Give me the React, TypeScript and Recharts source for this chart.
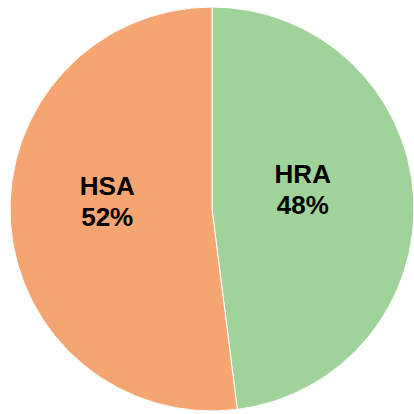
import React from 'react';
import { PieChart, Pie, Cell } from 'recharts';

const categories = ['HRA', 'HSA'];
const shares = [48, 52];
const colors = ['#A0D399', '#F4A572'];

const data = categories.map((name, i) => ({ name, value: shares[i] }));

const RADIAN = Math.PI / 180;

const renderLabel = (props: any) => {
  const { cx, cy, midAngle, outerRadius, name, value } = props;
  const r = outerRadius * 0.485;
  const x = cx + r * Math.cos(-midAngle * RADIAN) - 7;
  const y = cy + r * Math.sin(-midAngle * RADIAN) - 20;
  return (
    <text
      x={x}
      y={y}
      textAnchor="middle"
      fill="#000000"
      fontFamily='"Liberation Sans", Arial, sans-serif'
      fontSize={26}
      fontWeight="bold"
    >
      <tspan x={x}>{name}</tspan>
      <tspan x={x} dy={31}>{`${value}%`}</tspan>
    </text>
  );
};

const App: React.FC = () => {
  return (
    <div style={{ position: 'absolute', left: 0, top: 0, width: 414, height: 414, background: '#ffffff' }}>
      <PieChart width={414} height={414} margin={{ top: 0, right: 0, bottom: 0, left: 0 }}>
        <Pie
          data={data}
          dataKey="value"
          nameKey="name"
          cx={212}
          cy={209}
          outerRadius={202}
          startAngle={90}
          endAngle={-270}
          stroke="#ffffff"
          strokeWidth={1}
          label={renderLabel}
          labelLine={false}
          isAnimationActive={false}
        >
          {data.map((d, i) => (
            <Cell key={d.name} fill={colors[i]} />
          ))}
        </Pie>
      </PieChart>
    </div>
  );
};

export default App;
